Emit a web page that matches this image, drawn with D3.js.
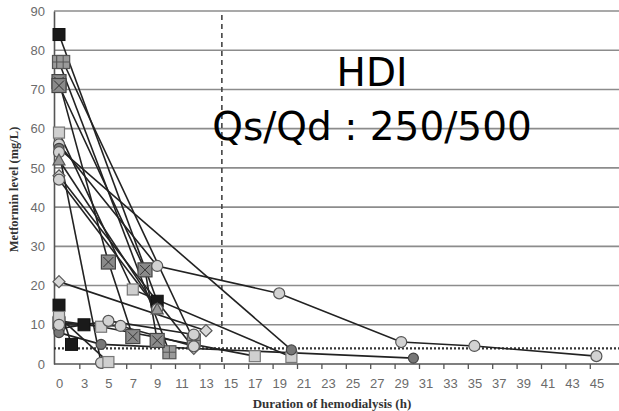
<!DOCTYPE html>
<html>
<head>
<meta charset="utf-8">
<script src="https://cdn.jsdelivr.net/npm/d3@7"></script>
<style>
  html, body { margin: 0; padding: 0; background: #fff; }
  svg { display: block; }
</style>
</head>
<body>
<div id="chart"></div>
<script>
// values (hours, mg/L)
var yTicks = [0, 10, 20, 30, 40, 50, 60, 70, 80, 90];
var xTickValues = [0, 3, 5, 7, 9, 11, 13, 15, 17, 19, 21, 23, 25, 27, 29, 31, 33, 35, 37, 39, 41, 43, 45];
var xTickLabels = ['0', '3', '5', '7', '9', '11', '13', '15', '17', '19', '21', '23', '25', '27', '29', '31', '33', '35', '37', '39', '41', '43', '45'];
var thresholdLevel = 4;     // dotted line
var cutHour = 14.3;         // dashed line
var titleLines = ['HDI', 'Qs/Qd : 250/500'];

var seriesMarkers = ['sqBlack', 'sqGrid', 'sqGrid', 'sqX', 'sqX', 'circLight', 'sqLight', 'diamond',
  'circLight', 'circDark', 'diamond', 'sqBlack', 'sqBlack', 'sqLight', 'circLight', 'circDark', 'circLight', 'sqLight', 'circLight', 'triangle'];
var seriesTimes = [
  [0, 9],
  [0, 10],
  [0.5, 12],
  [0, 5, 7],
  [0, 8, 9],
  [0, 9, 19, 29, 35, 45],
  [0, 7, 20],
  [0, 12],
  [0, 9],
  [0, 20],
  [0, 13],
  [0, 1.5],
  [0, 3],
  [0, 4.4, 17],
  [0, 5, 12],
  [0, 4.4, 30],
  [0, 4.4],
  [0, 5],
  [0, 6, 12],
  [0, 9]
];
var seriesValues = [
  [84, 16],
  [77, 3],
  [77, 6],
  [72, 26, 7],
  [71, 24, 6],
  [56, 25, 18, 5.6, 4.6, 2],
  [59, 19, 1.8],
  [48, 4],
  [47, 14],
  [55, 3.6],
  [21, 8.5],
  [15, 5],
  [10.5, 10],
  [11, 9.5, 2],
  [9, 11, 7.5],
  [8, 5, 1.5],
  [54, 0.3],
  [12, 0.5],
  [10, 9.7, 4.5],
  [52, 14]
];

var W = 619, H = 411;
var svg = d3.select('#chart').append('svg')
  .attr('width', W).attr('height', H)
  .style('font-family', '"Noto Sans", sans-serif');

var plotLeft = 54, plotRight = 619, plotTop = 11, plotBottom = 364;

// first step of the time axis is wider than the others in the original
var x = d3.scaleLinear().domain([0, 3, 48]).range([59, 84, 84 + 45 * 12.2]);
var y = d3.scaleLinear().domain([0, 90]).range([plotBottom, plotTop]);

// gridlines
svg.append('g').selectAll('line').data(yTicks.filter(function (d) { return d > 0; }))
  .enter().append('line')
  .attr('x1', plotLeft).attr('x2', plotRight)
  .attr('y1', function (d) { return y(d); }).attr('y2', function (d) { return y(d); })
  .attr('stroke', '#8c8c8c').attr('stroke-width', 1.6);

// y axis
var yAxis = svg.append('g')
  .attr('transform', 'translate(' + plotLeft + ',0)')
  .call(d3.axisLeft(y).tickValues(yTicks).tickSize(0).tickPadding(9));
yAxis.select('.domain').attr('stroke', '#555').attr('stroke-width', 1.6);
yAxis.selectAll('text').attr('fill', '#6b6b6b').style('font-size', '13px');

// x axis
var xAxis = svg.append('g')
  .attr('transform', 'translate(0,' + plotBottom + ')')
  .call(d3.axisBottom(x).tickValues(xTickValues).tickSize(0).tickPadding(15)
    .tickFormat(function (d, i) { return xTickLabels[i]; }));
xAxis.select('.domain').attr('d', 'M' + plotLeft + ',0H' + plotRight)
  .attr('stroke', '#555').attr('stroke-width', 1.6);
xAxis.selectAll('text').attr('fill', '#6b6b6b').style('font-size', '13px');
svg.append('g').selectAll('line').data(xTickValues.slice(1).map(function (d) { return d - 0.5; }))
  .enter().append('line')
  .attr('x1', function (d) { return x(d); }).attr('x2', function (d) { return x(d); })
  .attr('y1', plotBottom).attr('y2', plotBottom + 5)
  .attr('stroke', '#555').attr('stroke-width', 1.3);

// reference lines
svg.append('line')
  .attr('x1', plotLeft).attr('x2', plotRight)
  .attr('y1', y(thresholdLevel)).attr('y2', y(thresholdLevel))
  .attr('stroke', '#333').attr('stroke-width', 2.2).attr('stroke-dasharray', '2,2');
svg.append('line')
  .attr('x1', x(cutHour)).attr('x2', x(cutHour))
  .attr('y1', 15).attr('y2', plotBottom)
  .attr('stroke', '#444').attr('stroke-width', 1.6).attr('stroke-dasharray', '5,4');

// titles
svg.append('text')
  .attr('transform', 'translate(18,' + ((plotTop + plotBottom) / 2 + 2) + ') rotate(-90)')
  .attr('text-anchor', 'middle')
  .style('font-family', '"Liberation Serif", serif').style('font-weight', 'bold').style('font-size', '12.5px')
  .attr('fill', '#333').text('Metformin level (mg/L)');
svg.append('text')
  .attr('x', 332).attr('y', 408).attr('text-anchor', 'middle')
  .style('font-family', '"Liberation Serif", serif').style('font-weight', 'bold').style('font-size', '13px')
  .attr('fill', '#333').text('Duration of hemodialysis (h)');

// series lines
var line = d3.line()
  .x(function (d) { return x(d[0]); })
  .y(function (d) { return y(d[1]); });
var series = seriesTimes.map(function (t, i) {
  return { marker: seriesMarkers[i], pts: t.map(function (h, j) { return [h, seriesValues[i][j]]; }) };
});
svg.append('g').selectAll('path').data(series).enter().append('path')
  .attr('d', function (d) { return line(d.pts); })
  .attr('fill', 'none').attr('stroke', '#222').attr('stroke-width', 1.6);

// markers
function drawMarker(g, type) {
  var s;
  if (type === 'sqBlack') {
    g.append('rect').attr('x', -6).attr('y', -6).attr('width', 12).attr('height', 12)
      .attr('fill', '#1a1a1a').attr('stroke', '#111');
  } else if (type === 'sqGrid') {
    g.append('rect').attr('x', -6.5).attr('y', -6.5).attr('width', 13).attr('height', 13)
      .attr('fill', '#9a9a9a').attr('stroke', '#555').attr('stroke-width', 1.2);
    g.append('path').attr('d', 'M-6.5,0H6.5M0,-6.5V6.5').attr('stroke', '#555').attr('stroke-width', 1);
  } else if (type === 'sqX') {
    g.append('rect').attr('x', -7).attr('y', -7).attr('width', 14).attr('height', 14)
      .attr('fill', '#8a8a8a').attr('stroke', '#444').attr('stroke-width', 1.2);
    g.append('path').attr('d', 'M-5,-5L5,5M5,-5L-5,5').attr('stroke', '#333').attr('stroke-width', 1);
  } else if (type === 'sqLight') {
    g.append('rect').attr('x', -5.5).attr('y', -5.5).attr('width', 11).attr('height', 11)
      .attr('fill', '#cfcfcf').attr('stroke', '#777').attr('stroke-width', 1.2);
  } else if (type === 'circLight') {
    g.append('circle').attr('r', 5.5).attr('fill', '#d2d2d2').attr('stroke', '#555').attr('stroke-width', 1.2);
  } else if (type === 'circDark') {
    g.append('circle').attr('r', 5).attr('fill', '#777').attr('stroke', '#444').attr('stroke-width', 1.2);
  } else if (type === 'diamond') {
    s = 6;
    g.append('path').attr('d', 'M0,' + -s + 'L' + s + ',0L0,' + s + 'L' + -s + ',0Z')
      .attr('fill', '#d8d8d8').attr('stroke', '#555').attr('stroke-width', 1.2);
  } else if (type === 'triangle') {
    s = 6;
    g.append('path').attr('d', 'M0,' + -s + 'L' + s + ',' + s * 0.8 + 'L' + -s + ',' + s * 0.8 + 'Z')
      .attr('fill', '#999').attr('stroke', '#555').attr('stroke-width', 1.2);
  }
}
series.forEach(function (sr) {
  svg.append('g').selectAll('g').data(sr.pts).enter().append('g')
    .attr('transform', function (d) { return 'translate(' + x(d[0]) + ',' + y(d[1]) + ')'; })
    .each(function () { drawMarker(d3.select(this), sr.marker); });
});

// annotation
svg.append('g').selectAll('text').data(titleLines).enter().append('text')
  .attr('x', 372).attr('y', function (d, i) { return 86 + i * 54; })
  .attr('text-anchor', 'middle')
  .style('font-family', '"DejaVu Sans", sans-serif').style('font-size', '39px')
  .attr('fill', '#000').text(function (d) { return d; });
</script>
</body>
</html>
